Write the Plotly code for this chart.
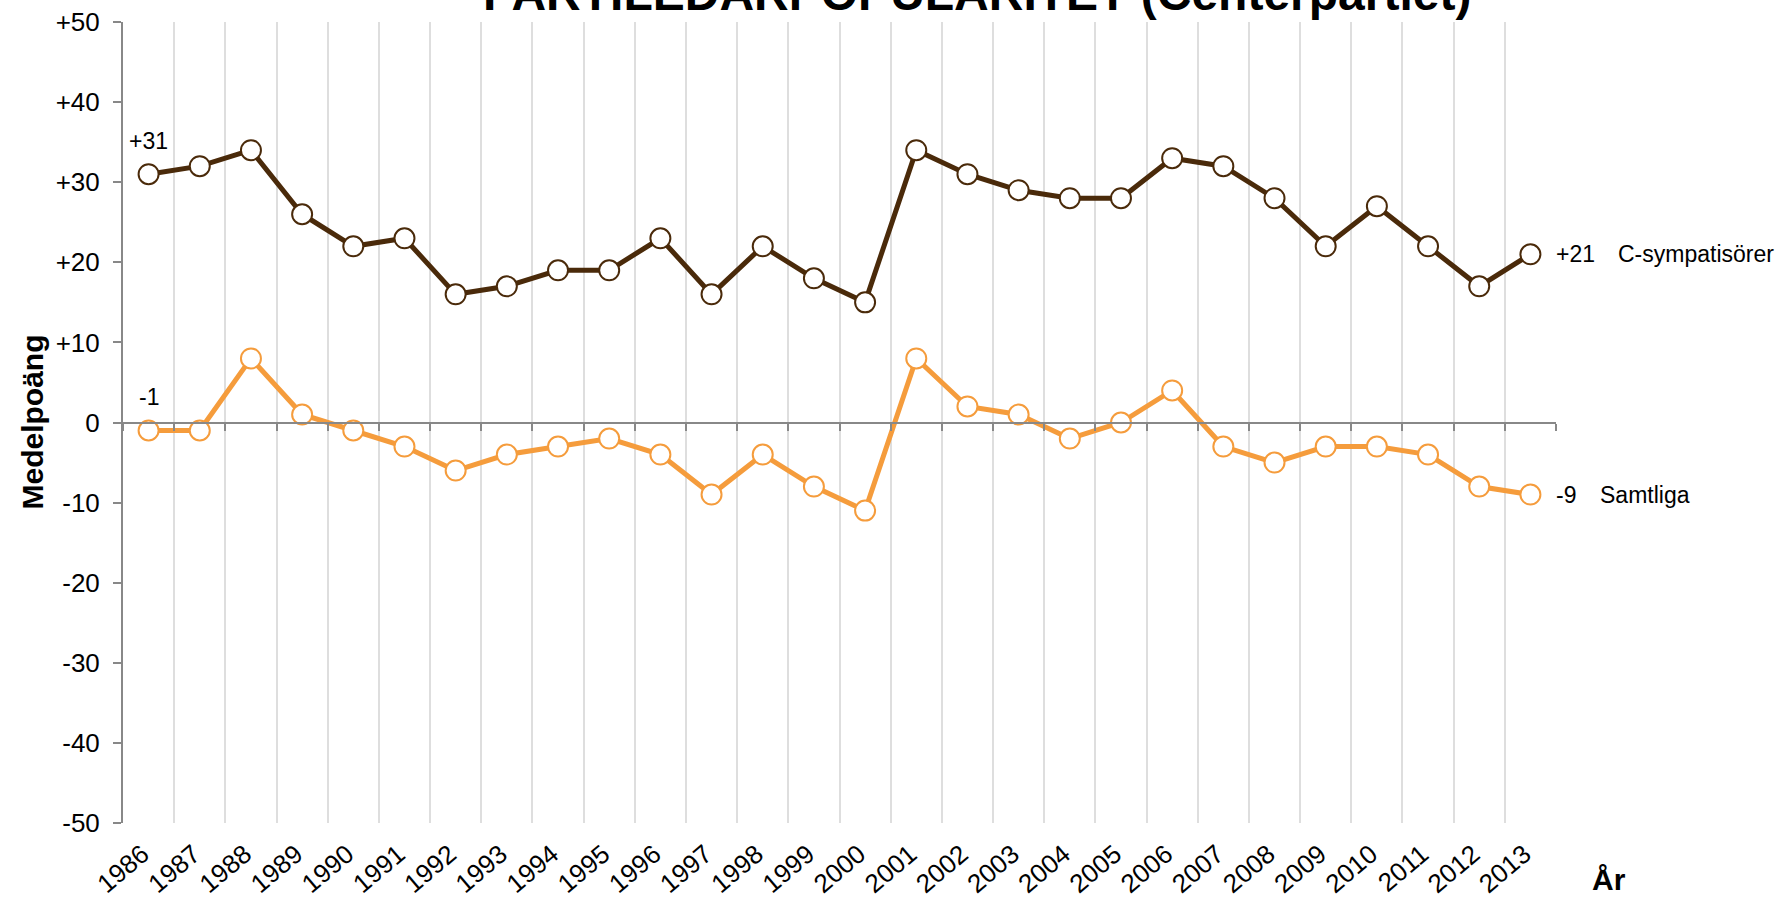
import plotly.graph_objects as go

years = [str(y) for y in range(1986, 2014)]
c_sympatisorer = [31, 32, 34, 26, 22, 23, 16, 17, 19, 19, 23, 16, 22, 18, 15,
                  34, 31, 29, 28, 28, 33, 32, 28, 22, 27, 22, 17, 21]
samtliga = [-1, -1, 8, 1, -1, -3, -6, -4, -3, -2, -4, -9, -4, -8, -11,
            8, 2, 1, -2, 0, 4, -3, -5, -3, -3, -4, -8, -9]
y_ticks = [50, 40, 30, 20, 10, 0, -10, -20, -30, -40, -50]
y_ticktext = [f"{v:+d}" if v != 0 else "0" for v in y_ticks]

BROWN = "#4A2A0A"
ORANGE = "#F59C3C"
GRID = "#DEDEDE"
AXIS = "#888888"
FONT = "Liberation Sans, Arial, sans-serif"


def fmt(v):
    return f"{v:+d}" if v != 0 else "0"


first_i = 0
last_i = len(years) - 1

fig = go.Figure()
fig.add_trace(go.Scatter(
    x=years, y=c_sympatisorer, mode="lines+markers", name="C-sympatisörer",
    line=dict(color=BROWN, width=5),
    marker=dict(symbol="circle", size=20, color="white",
                line=dict(color=BROWN, width=2)),
    xaxis="x", yaxis="y", cliponaxis=False,
))
fig.add_trace(go.Scatter(
    x=years, y=samtliga, mode="lines+markers", name="Samtliga",
    line=dict(color=ORANGE, width=5),
    marker=dict(symbol="circle", size=20, color="white",
                line=dict(color=ORANGE, width=2)),
    xaxis="x2", yaxis="y", cliponaxis=False,
))

lab = dict(family=FONT, size=23, color="black")
annotations = [
    dict(text="<b>PARTILEDARPOPULARITET (Centerpartiet)</b>", xref="paper", yref="paper",
         x=0.596, y=1.036, xanchor="center", yanchor="middle", showarrow=False,
         font=dict(family=FONT, size=48, color="black")),
    dict(text="<b>Medelpoäng</b>", xref="paper", yref="paper",
         x=-0.0635, y=0.5, xanchor="center", yanchor="middle", showarrow=False,
         textangle=-90, font=dict(family=FONT, size=30, color="black")),
    dict(text="<b>År</b>", xref="paper", yref="paper",
         x=1.037, y=-0.071, xanchor="center", yanchor="middle", showarrow=False,
         font=dict(family=FONT, size=30, color="black")),
    # first-point labels
    dict(text=fmt(c_sympatisorer[first_i]), x=first_i, y=c_sympatisorer[first_i], xref="x", yref="y",
         showarrow=False, yshift=33, font=lab),
    dict(text=fmt(samtliga[first_i]), x=first_i, y=samtliga[first_i], xref="x", yref="y",
         showarrow=False, yshift=34, font=lab),
    # last-point labels
    dict(text=fmt(c_sympatisorer[last_i]), x=last_i, y=c_sympatisorer[last_i], xref="x", yref="y",
         showarrow=False, xanchor="left", xshift=24, font=lab),
    dict(text="C-sympatisörer", x=last_i, y=c_sympatisorer[last_i], xref="x", yref="y",
         showarrow=False, xanchor="left", xshift=86, font=lab),
    dict(text=fmt(samtliga[last_i]), x=last_i, y=samtliga[last_i], xref="x", yref="y",
         showarrow=False, xanchor="left", xshift=24, font=lab),
    dict(text="Samtliga", x=last_i, y=samtliga[last_i], xref="x", yref="y",
         showarrow=False, xanchor="left", xshift=68, font=lab),
]

fig.update_layout(
    width=1785, height=898,
    margin=dict(l=123, r=229, t=22, b=75, autoexpand=False),
    paper_bgcolor="white", plot_bgcolor="white",
    showlegend=False,
    font=dict(family=FONT, size=24, color="black"),
    xaxis=dict(
        type="category", categoryorder="array", categoryarray=years,
        range=[-0.5, len(years) - 0.5], autorange=False,
        tickson="boundaries", showgrid=True, gridcolor=GRID, gridwidth=2,
        ticks="", showline=False, zeroline=False,
        tickangle=-40, tickfont=dict(family=FONT, size=26, color="black"),
        ticklabelstandoff=10, ticklabelshift=-6,
    ),
    xaxis2=dict(
        type="category", categoryorder="array", categoryarray=years,
        range=[-0.5, len(years) - 0.5], autorange=False,
        overlaying="x", anchor="free", position=0.5, side="bottom",
        tickson="boundaries", showgrid=False, showticklabels=False,
        ticks="outside", ticklen=7, tickwidth=2, tickcolor=AXIS,
        showline=True, linecolor=AXIS, linewidth=2, zeroline=False,
    ),
    yaxis=dict(
        range=[-50, 50], autorange=False,
        tickvals=y_ticks, ticktext=y_ticktext,
        ticks="outside", ticklen=8, tickwidth=2, tickcolor=AXIS,
        showline=True, linecolor=AXIS, linewidth=2,
        showgrid=False, zeroline=False,
        tickfont=dict(family=FONT, size=26, color="black"),
        ticklabelstandoff=8,
    ),
    annotations=annotations,
)

fig.write_html("out.html", config={"displayModeBar": False},
               post_script="document.body.style.margin='0px';")
